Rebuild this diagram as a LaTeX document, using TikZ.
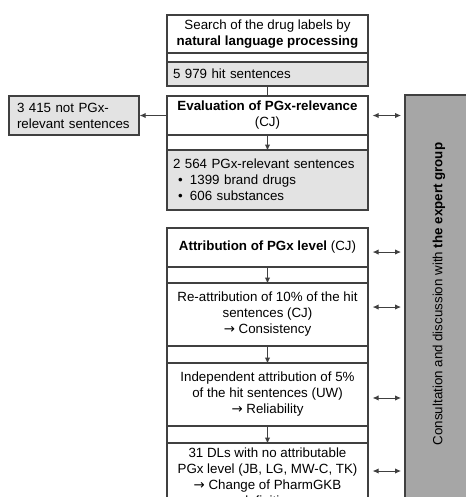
\documentclass[tikz,border=0pt]{standalone}
\usepackage{fontspec}
\setmainfont{Liberation Sans}
\newfontfamily\arrowfont{DejaVu Sans}
\usetikzlibrary{calc,positioning,arrows.meta}
\definecolor{figLine}{HTML}{404040}
\definecolor{figFill}{HTML}{E3E3E3}
\definecolor{figPanel}{HTML}{A6A6A6}
\newcommand{\toarrow}{{\arrowfont →}}

\begin{document}
\begin{tikzpicture}[
  x=0.75pt, y=-0.75pt,
  every node/.style={font=\fontsize{10}{12}\selectfont},
  box/.style={draw=figLine, line width=0.9pt, fill=white, inner sep=0pt,
              minimum width=150.75pt, align=center},
  res/.style={box, fill=figFill, inner xsep=4.5pt, text width=141.75pt, align=left},
  gap/.style={draw=figLine, line width=0.9pt, inner sep=0pt, minimum width=150.75pt},
  panel/.style={draw=figLine, line width=0.9pt, fill=figPanel, inner sep=0pt},
  arr/.style={-{Latex[length=4.5pt,width=4pt]}, figLine, line width=0.7pt},
  dbl/.style={{Latex[length=4.5pt,width=4pt]}-{Latex[length=4.5pt,width=4pt]},
              figLine, line width=0.7pt, shorten <=3pt, shorten >=2.5pt},
]
\useasboundingbox (0,0) rectangle (466,497);
\clip (0,0) rectangle (466,497);

% Expert group panel
\node[panel, minimum width=48.75pt, minimum height=311.25pt] (expert) at (437.5,302.5) {};
\node[rotate=90] (expertlabel) at (439,294) {Consultation and discussion with \textbf{the expert group}};

% Search step
\node[box, minimum height=28.5pt] (search) at (267.5,34)
  {Search of the drug labels by\\\textbf{natural language processing}};
\node[gap, minimum height=6.75pt] (gap1) at (267.5,57.5) {};
\node[res, minimum height=18pt] (hits) at (267.5,74) {5 979 hit sentences};

% Evaluation step
\node[box, minimum height=29.25pt] (eval) at (267.5,115.5)
  {\textbf{Evaluation of PGx-relevance}\\(CJ)};
\node[gap, minimum height=11.25pt] (gap2) at (267.5,142.5) {};
\node[res, minimum height=45pt] (rel) at (267.5,180)
  {2 564 PGx-relevant sentences\\
   \hspace*{3.75pt}\makebox[9pt][l]{•}1399 brand drugs\\
   \hspace*{3.75pt}\makebox[9pt][l]{•}606 substances};
\node[res, inner xsep=6pt, text width=85.5pt, minimum width=97.5pt,
      minimum height=29.25pt] (notrel) at (74,115.5)
  {3 415 not PGx-\\relevant sentences};

% Attribution steps
\node[box, minimum height=29.25pt] (attr) at (267.5,247.5)
  {\textbf{Attribution of PGx level} (CJ)};
\node[gap, minimum height=12pt] (gap3) at (267.5,275) {};
\node[box, minimum height=47.25pt] (reatt) at (267.5,314.5)
  {Re-attribution of 10\% of the hit\\sentences (CJ)\\\toarrow{} Consistency};
\node[gap, minimum height=12.75pt] (gap4) at (267.5,354.5) {};
\node[box, minimum height=47.25pt] (indep) at (267.5,394.5)
  {Independent attribution of 5\%\\of the hit sentences (UW)\\\toarrow{} Reliability};
\node[gap, minimum height=12.75pt] (gap5) at (267.5,434.5) {};
\node[box, minimum height=51pt] (dls) at (267.5,477)
  {31 DLs with no attributable\\PGx level (JB, LG, MW-C, TK)\\\toarrow{} Change of PharmGKB\\definition};

% Flow
\draw[figLine, line width=0.7pt] (hits.south) -- (eval.north);
\draw[arr] (eval.west) -- (notrel.east);
\draw[arr] (gap2.north) -- (gap2.south);
\draw[arr] (gap3.north) -- (gap3.south);
\draw[arr] (gap4.north) -- (gap4.south);
\draw[arr] (gap5.north) -- (gap5.south);

% Consultation arrows
\coordinate (evalR) at (eval.east);
\coordinate (attrR) at ([yshift=-3.4pt]attr.east);
\coordinate (reattR) at ([yshift=5.6pt]reatt.east);
\coordinate (indepR) at ([yshift=-2.6pt]indep.east);
\coordinate (dlsR) at ([yshift=4.5pt]dls.east);
\draw[dbl] (evalR) -- (evalR -| expert.west);
\draw[dbl] (attrR) -- (attrR -| expert.west);
\draw[dbl] (reattR) -- (reattR -| expert.west);
\draw[dbl] (indepR) -- (indepR -| expert.west);
\draw[dbl] (dlsR) -- (dlsR -| expert.west);

\end{tikzpicture}
\end{document}
